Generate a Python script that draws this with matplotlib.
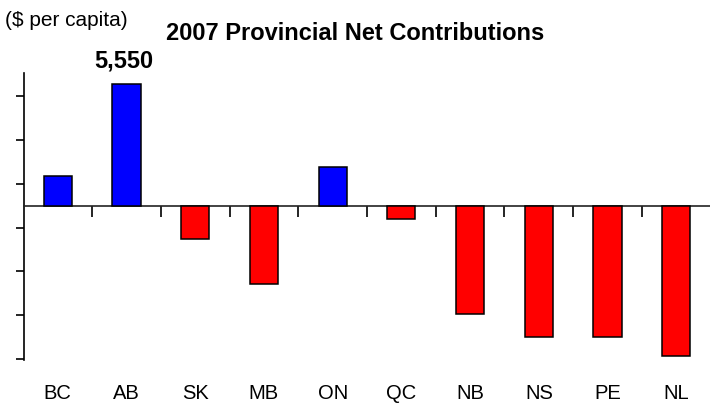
import numpy as np
import matplotlib
matplotlib.use('Agg')
import matplotlib.pyplot as plt

provinces = ['BC', 'AB', 'SK', 'MB', 'ON', 'QC', 'NB', 'NS', 'PE', 'NL']
net_contrib = [1360, 5550, -1540, -3600, 1790, -620, -4970, -6000, -6000, -6890]
ytick_vals = [-7000, -5000, -3000, -1000, 1000, 3000, 5000]

plt.rcParams['font.family'] = ['Liberation Sans', 'DejaVu Sans']

fig = plt.figure(figsize=(7.1, 4.04), dpi=100)
ax = fig.add_axes([24 / 710, 1 - 360 / 404, 1 - 24 / 710, (360 - 73) / 404])

x = np.arange(len(provinces))
colors = ['#0000ff' if v > 0 else '#ff0000' for v in net_contrib]
ax.bar(x, net_contrib, width=0.41, color=colors, edgecolor='black', linewidth=1.1, zorder=3)

ax.set_xlim(-0.49, 9.49)
ax.set_ylim(-7060, 6070)

# x axis sits on the zero line, separator ticks between provinces
ax.spines['bottom'].set_position(('data', 0))
ax.spines['top'].set_visible(False)
ax.spines['right'].set_visible(False)
ax.spines['left'].set_linewidth(1.2)
ax.spines['bottom'].set_linewidth(1.2)
ax.spines['bottom'].set_color('#222222')
ax.set_xticks(x[:-1] + 0.5)
ax.tick_params(axis='x', direction='out', length=8, width=1.2, labelbottom=False)
ax.set_yticks(ytick_vals)
ax.tick_params(axis='y', direction='out', length=6, width=1.2, labelleft=False)

for i, p in enumerate(provinces):
    ax.text(i, -0.116, p, transform=ax.get_xaxis_transform(), ha='center', va='center', fontsize=14.5)

ax.annotate('{:,}'.format(net_contrib[1]), xy=(1, net_contrib[1]), xytext=(-2, 17),
            textcoords='offset points', ha='center', va='center', fontsize=17, fontweight='bold')

fig.text(355 / 710, 1 - 33 / 404, '2007 Provincial Net Contributions', ha='center', va='center',
         fontsize=17, fontweight='bold')
fig.text(5 / 710, 1 - 20 / 404, '($ per capita)', ha='left', va='center', fontsize=15)

fig.savefig('out.png', dpi=100)
